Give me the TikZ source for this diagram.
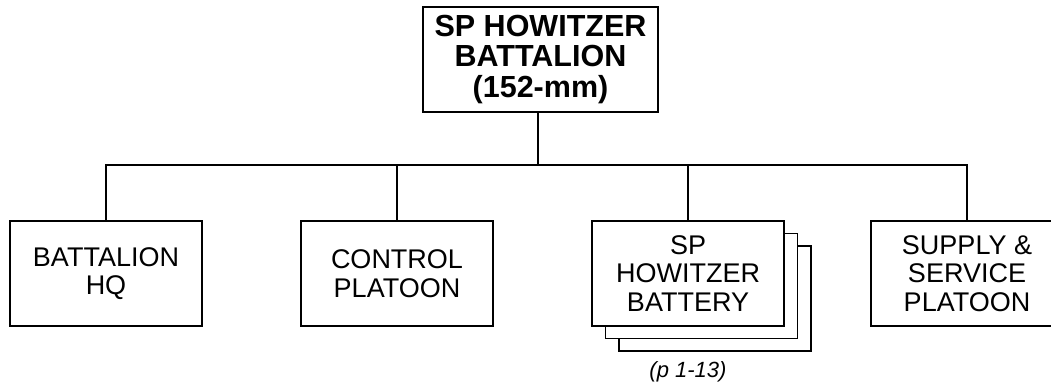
\documentclass[tikz,border=0pt]{standalone}
\usepackage{fontspec}
\setmainfont{Liberation Sans}
\begin{document}
\begin{tikzpicture}[x=1pt,y=-1pt,
	unit/.style={draw, line width=1.6pt, fill=white, align=center, inner sep=0pt,
		minimum width=192pt, minimum height=105pt, font=\fontsize{27}{28.5}\selectfont},
	link/.style={line width=1.6pt}]
\useasboundingbox (0,0) rectangle (1051,384);
\node[unit, minimum width=235pt, font=\fontsize{30.5}{30.5}\selectfont\bfseries] (bn) at (540.5,59.5) {SP HOWITZER\\BATTALION\\(152-mm)};
\coordinate (bar) at (538,165);
\node[unit] (hq) at (106,273.5) {BATTALION\\HQ};
\node[unit] (ctl) at (397,273.5) {CONTROL\\PLATOON};
% stacked batteries
\foreach \i in {2,1}
{
	\node[unit] (bty\i) at ({688+13.5*\i},{273.5+12.5*\i}) {};
}
\node[unit] (bty) at (688,273.5) {SP\\HOWITZER\\BATTERY};
\node[font=\fontsize{22}{24}\selectfont\itshape] (ref) at (688,372) {(p 1-13)};
\node[unit] (sup) at (967,273.5) {SUPPLY \&\\SERVICE\\PLATOON};
\draw[link] (bn.south -| bar) -- (bar);
\foreach \u in {hq,ctl,bty,sup}
{
	\draw[link] (bar) -| (\u.north);
}
\end{tikzpicture}
\end{document}
